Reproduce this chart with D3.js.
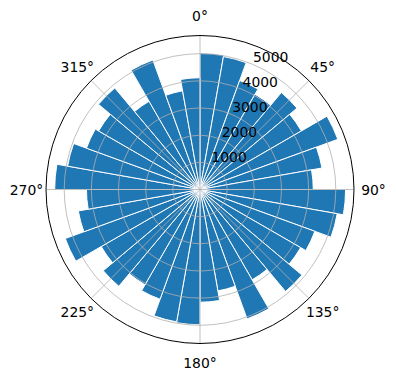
<!DOCTYPE html>
<html>
<head>
<meta charset="utf-8">
<script src="https://cdn.jsdelivr.net/npm/d3@7/dist/d3.min.js"></script>
<style>
body { margin: 0; background: #fff; }
text { font-family: "DejaVu Sans", sans-serif; font-size: 13.9px; fill: #000; }
</style>
</head>
<body>
<div class="chart"></div>
<script>
"use strict";
(function(){

// bar start angles (degrees, clockwise from north), 10 degree bins
var angles = [0, 10, 20, 30, 40, 50, 60, 70, 80,
              90, 100, 110, 120, 130, 140, 150, 160, 170,
              180, 190, 200, 210, 220, 230, 240, 250, 260,
              270, 280, 290, 300, 310, 320, 330, 340, 350]
var counts = [5030, 4970, 4270, 4050, 4660, 4310, 5400, 4560, 4170,
              5360, 5130, 4500, 4280, 4900, 3840, 5070, 3790, 4150,
              4980, 4950, 4300, 4050, 4650, 4200, 5280, 4550, 4180,
              5350, 4950, 4450, 4310, 4880, 3750, 5075, 3690, 4115]
var thetaTicks = [0, 45, 90, 135, 180, 225, 270, 315]
var thetaLabels = ['0°', '45°', '90°', '135°', '180°', '225°', '270°', '315°']
var rTicks = [1000, 2000, 3000, 4000, 5000]

var binWidth = 10
var width = 396
var height = 380
var radius = 154

var data = angles.map(function(a, i){
  return {angle: a, count: counts[i]}
})

var svg = d3.select('.chart')
            .append('svg')
            .attr('width', width)
            .attr('height', height)
            .append('g')
            .attr('transform', 'translate(200,189.5)')

var rScale = d3.scaleLinear().domain([0, d3.max(counts) * 1.05]).range([0, radius])

function rad(deg){ return deg * Math.PI / 180 }
function px(deg, r){ return r * Math.sin(rad(deg)) }
function py(deg, r){ return -r * Math.cos(rad(deg)) }

var arc = d3.arc()
            .innerRadius(0)
            .outerRadius(function(d){ return rScale(d.count) })
            .startAngle(function(d){ return rad(d.angle) })
            .endAngle(function(d){ return rad(d.angle + binWidth) })

svg.selectAll('.bar')
   .data(data)
   .enter().append('path')
   .attr('class', 'bar')
   .attr('d', arc)
   .attr('fill', '#1f77b4')
   .attr('stroke', '#fff')
   .attr('stroke-width', 1)

// grid sits on top of the bars like matplotlib does
svg.selectAll('.rgrid')
   .data(rTicks)
   .enter().append('circle')
   .attr('class', 'rgrid')
   .attr('r', function(d){ return rScale(d) })
   .attr('fill', 'none')
   .attr('stroke', '#b0b0b0')
   .attr('stroke-width', 0.8)

svg.selectAll('.tgrid')
   .data(thetaTicks)
   .enter().append('line')
   .attr('class', 'tgrid')
   .attr('x1', 0).attr('y1', 0)
   .attr('x2', function(d){ return px(d, radius) })
   .attr('y2', function(d){ return py(d, radius) })
   .attr('stroke', '#b0b0b0')
   .attr('stroke-width', 0.8)

svg.append('circle')
   .attr('r', radius)
   .attr('fill', 'none')
   .attr('stroke', '#000')
   .attr('stroke-width', 1)

svg.selectAll('.tlabel')
   .data(thetaTicks)
   .enter().append('text')
   .attr('class', 'tlabel')
   .attr('x', function(d){ return px(d, radius + 19.5) })
   .attr('y', function(d){ return py(d, radius + 19.5) })
   .attr('text-anchor', 'middle')
   .attr('dominant-baseline', 'central')
   .text(function(d, i){ return thetaLabels[i] })

var labelAngle = 22.5
svg.selectAll('.rlabel')
   .data(rTicks)
   .enter().append('text')
   .attr('class', 'rlabel')
   .attr('x', function(d){ return px(labelAngle, rScale(d)) + 1 })
   .attr('y', function(d){ return py(labelAngle, rScale(d)) - 2 })
   .text(function(d){ return d })

})();
</script>
</body>
</html>
